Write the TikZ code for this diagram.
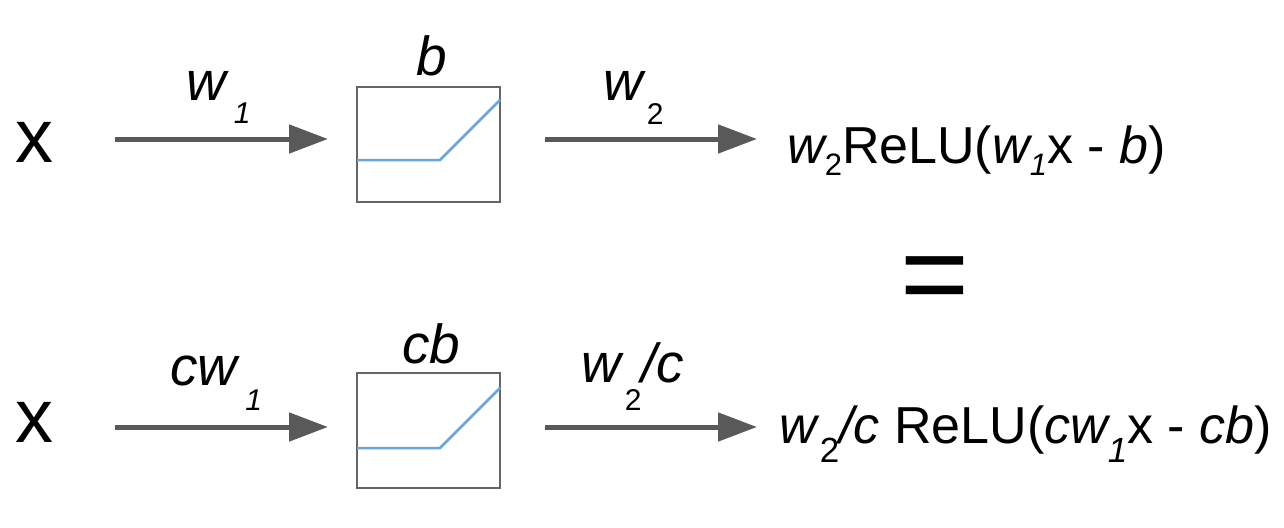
\documentclass[tikz,border=0pt]{standalone}
\usepackage{fontspec}
\setmainfont{Liberation Sans}
\usetikzlibrary{arrows.meta}
\definecolor{arrgray}{HTML}{595959}
\definecolor{boxgray}{HTML}{666666}
\definecolor{relublue}{HTML}{67A5DE}
\newcommand{\lblf}{\fontsize{55}{60}\selectfont}
\newcommand{\lsub}{\fontsize{30}{32}\selectfont}
\newcommand{\exf}{\fontsize{52}{56}\selectfont}
\newcommand{\exsub}{\fontsize{31}{33}\selectfont}
\newcommand{\exsubb}{\fontsize{35}{37}\selectfont}
\tikzset{
  arr/.style={line width=5pt, draw=arrgray, -{Triangle[length=39pt,width=28pt]}},
  boxst/.style={draw=boxgray, line width=2.5pt, minimum width=143pt, minimum height=115pt, inner sep=0pt},
  relu/.style={draw=relublue, line width=2.5pt},
  txt/.style={inner sep=0pt, anchor=base west},
  lbl/.style={inner sep=0pt, anchor=base west, font=\lblf},
}
\begin{document}
\begin{tikzpicture}[x=1pt,y=-1pt]
\useasboundingbox (0,0) rectangle (1284,527);
% ---------- top row ----------
\node[inner sep=0pt, anchor=base, font=\fontsize{76}{80}\selectfont] (xa) at (35,162) {x};
\node[boxst] (boxa) at (428.5,144.5) {};
\draw[relu] (357,160) -- (440,160) -- (500,100);
\coordinate (a1s) at (115,139);
\coordinate (a1e) at (328,139);
\coordinate (a2s) at (545,139);
\coordinate (a2e) at (757,139);
\draw[arr] (a1s) -- (a1e);
\draw[arr] (a2s) -- (a2e);
\node[lbl] (w1a) at (186,100) {\itshape w\hspace{8pt}\raisebox{-23pt}{\lsub 1}};
\node[lbl, anchor=base] (ba) at (432,75) {\itshape b};
\node[lbl] (w2a) at (603,100) {\itshape w\hspace{4pt}\raisebox{-24pt}{\lsub\upshape 2}};
\node[txt, font=\exf] (resa) at (787,163) {\itshape w\raisebox{-12pt}{\exsub\upshape 2}\upshape ReLU(\itshape w\raisebox{-12pt}{\exsub 1}\upshape x - \itshape b\upshape )};
% ---------- equals ----------
\node[inner sep=0pt, anchor=center, font=\fontsize{118}{120}\selectfont] (eq) at (935,286) {=};
% ---------- bottom row ----------
\node[inner sep=0pt, anchor=base, font=\fontsize{76}{80}\selectfont] (xb) at (35,442) {x};
\node[boxst] (boxb) at (428.5,430.5) {};
\draw[relu] (357,448) -- (440,448) -- (500,388);
\coordinate (b1s) at (115,427);
\coordinate (b1e) at (328,427);
\coordinate (b2s) at (545,427);
\coordinate (b2e) at (757,427);
\draw[arr] (b1s) -- (b1e);
\draw[arr] (b2s) -- (b2e);
\node[lbl] (cw1b) at (170,385) {\itshape cw\hspace{8pt}\raisebox{-25pt}{\lsub 1}};
\node[lbl, anchor=base] (cbb) at (431.5,363) {\itshape cb};
\node[lbl] (w2cb) at (581,382) {\itshape w\hspace{4pt}\raisebox{-28pt}{\lsub\upshape 2}/c};
\node[txt, font=\exf] (resb) at (779,443) {\itshape w\hspace{3pt}\raisebox{-19pt}{\exsubb\upshape 2}/c \upshape ReLU(\itshape cw\raisebox{-19pt}{\exsubb 1}\upshape x - \itshape cb\upshape )};
\end{tikzpicture}
\end{document}
